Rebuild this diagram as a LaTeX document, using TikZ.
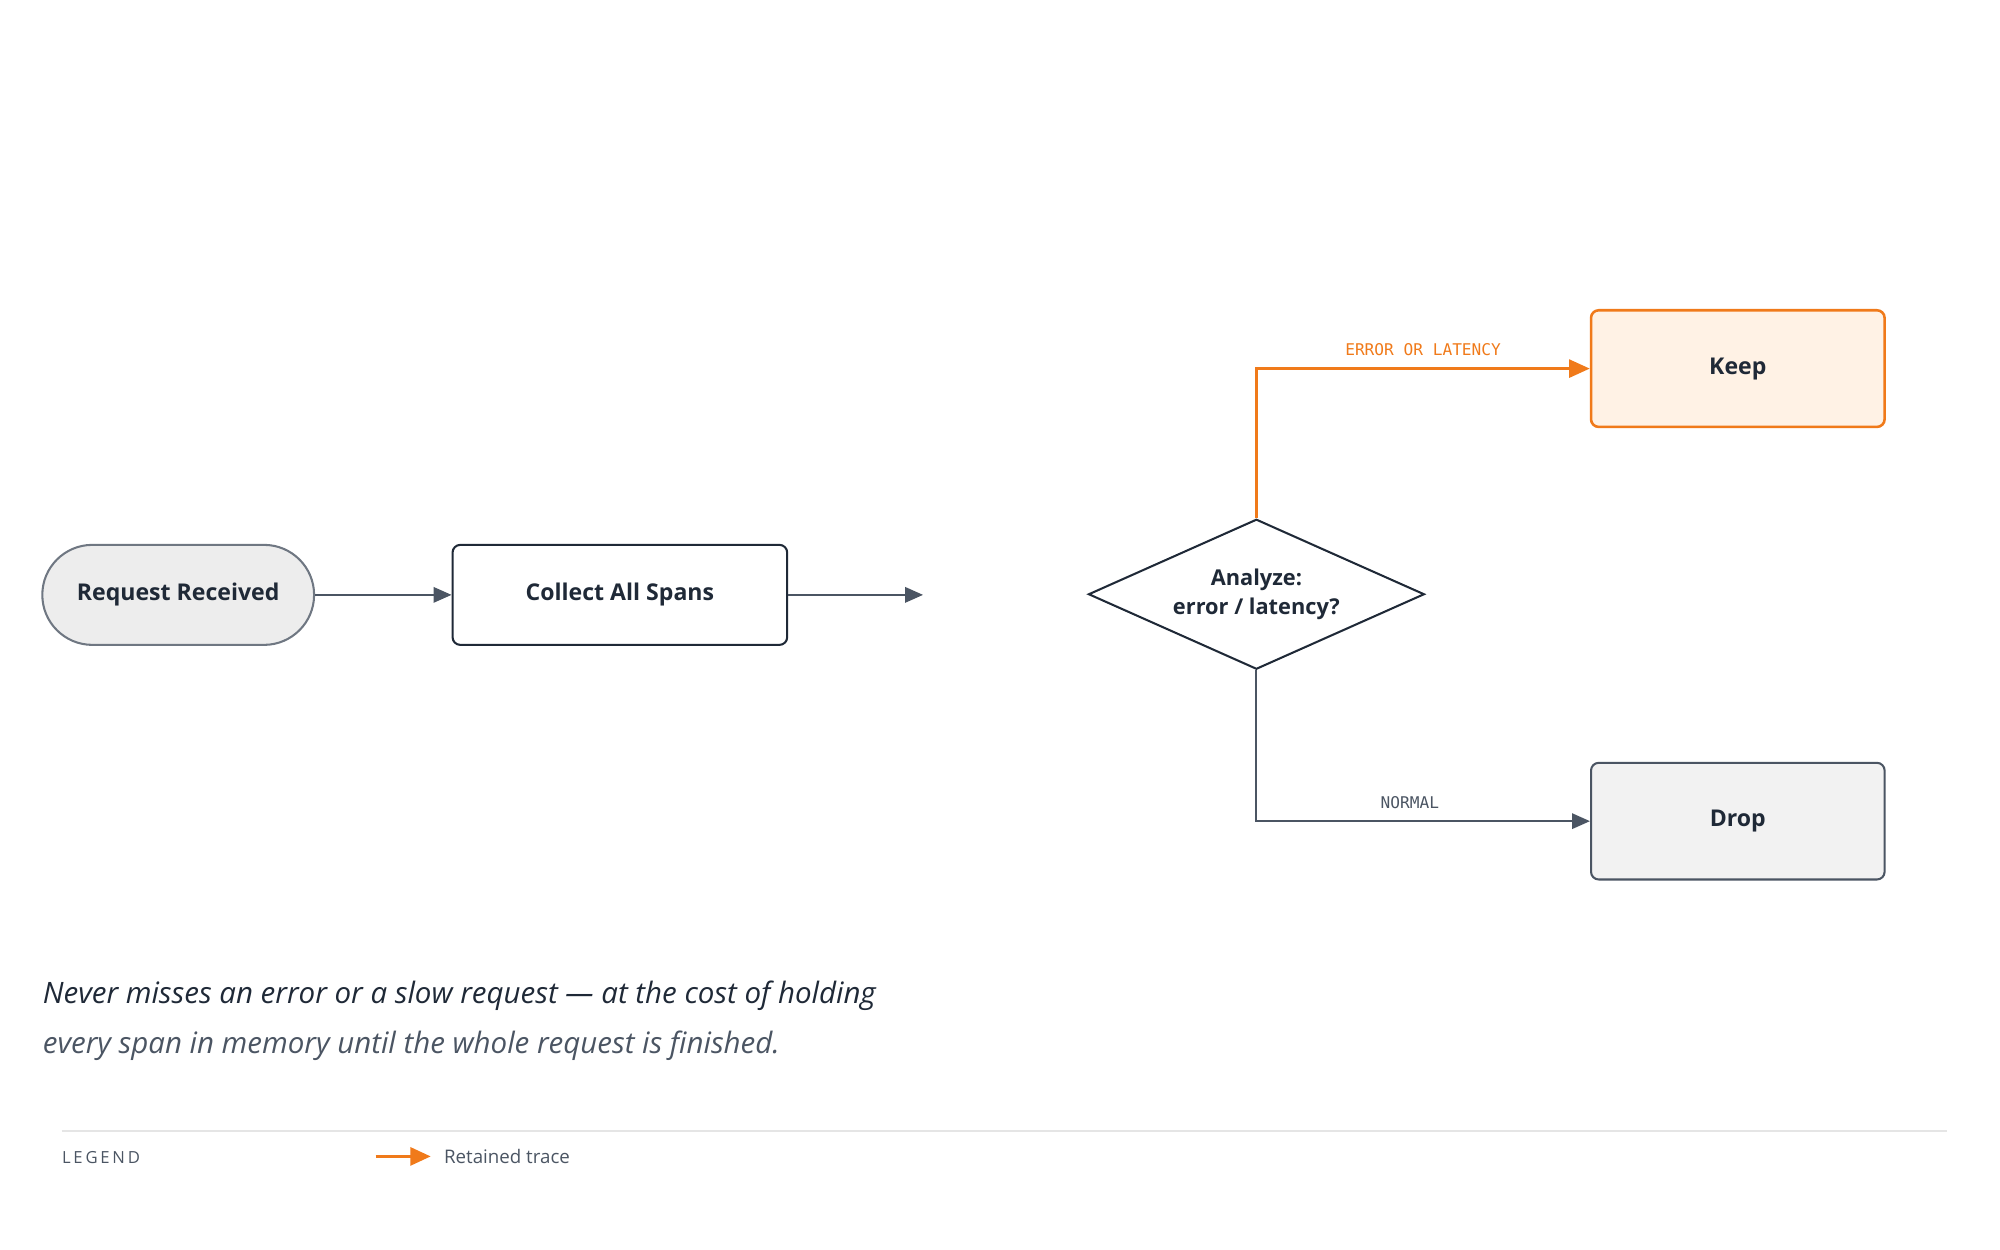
\documentclass[tikz,border=0pt]{standalone}
\usepackage{fontspec}
\setmainfont{Open Sans}
\newfontfamily\monof{DejaVu Sans Mono}
\usetikzlibrary{shapes.geometric,arrows.meta}
\definecolor{ink}{HTML}{1F2937}
\definecolor{gry}{HTML}{4B5563}
\definecolor{org}{HTML}{F07A1A}
\begin{document}
\begin{tikzpicture}[x=0.5pt,y=-0.5pt,
 box/.style={draw=ink,line width=0.8pt,rounded corners=3pt,font=\bfseries\fontsize{9}{11}\selectfont,text=ink,inner sep=0pt},
 conn/.style={draw=gry,line width=0.8pt,-{Triangle[length=7pt,width=6pt]}},
 lab/.style={font=\monof\fontsize{6.3}{7}\selectfont}]
\useasboundingbox (0,0) rectangle (1560,975);
\node[box,draw=gry!80,fill=black!7,rounded corners=19.5pt,minimum width=106pt,minimum height=39pt] (req) at (139,464) {Request Received};
\node[box,minimum width=130.5pt,minimum height=39pt] (col) at (483.5,464) {Collect All Spans};
\coordinate (gap) at (720,464);
\node[box,diamond,rounded corners=0pt,aspect=2.24,minimum width=131pt,minimum height=58.5pt,align=center,font=\bfseries\fontsize{8.5}{11.5}\selectfont] (dia) at (980,463.5) {Analyze:\\error / latency?};
\node[box,draw=org,fill=orange!10,line width=1pt,minimum width=114.5pt,minimum height=45.5pt] (keep) at (1355.5,287.5) {Keep};
\node[box,draw=gry,fill=black!5,minimum width=114.5pt,minimum height=45.5pt] (drop) at (1355.5,640.5) {Drop};
\draw[conn] (req) -- (col);
\draw[conn] (col) -- (gap);
\draw[conn,draw=org,line width=1pt,-{Triangle[length=8pt,width=7pt]}] (dia.north) |- (keep.west) node[lab,text=org,pos=0.75,above=1pt] {ERROR OR LATENCY};
\draw[conn] (dia.south) |- (drop.west) node[lab,text=gry,pos=0.73,above=1pt] {NORMAL};
\node[anchor=base west,inner sep=0,text=ink,font=\itshape\fontsize{11.5}{14}\selectfont] (c1) at (33,783) {Never misses an error or a slow request — at the cost of holding};
\node[anchor=base west,inner sep=0,text=gry,font=\itshape\fontsize{11.5}{14}\selectfont] (c2) at (33,822) {every span in memory until the whole request is finished.};
\draw[black!10,line width=0.7pt] (48,882) coordinate (l1) -- (1519,882) coordinate (l2);
\node[anchor=west,inner sep=0,text=gry,font=\fontsize{6.5}{8}\selectfont] (leg) at (48,903) {L\,E\,G\,E\,N\,D};
\coordinate (la) at (293,902); \coordinate (lb) at (336,902);
\draw[org,line width=1.3pt,-{Triangle[length=8pt,width=7pt]}] (la) -- (lb);
\node[anchor=west,inner sep=0,text=gry,font=\fontsize{7.3}{9}\selectfont] (lt) at (346,902) {Retained trace};
\end{tikzpicture}
\end{document}
